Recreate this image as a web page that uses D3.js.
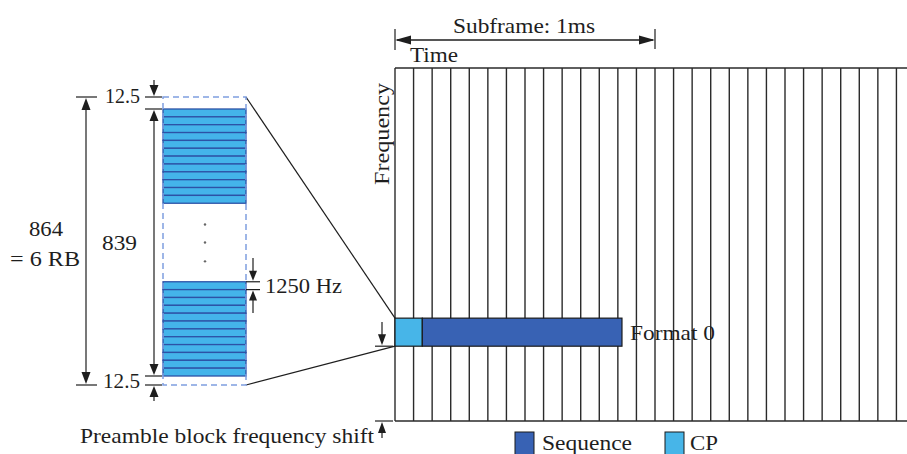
<!DOCTYPE html>
<html><head><meta charset="utf-8">
<script src="https://cdn.jsdelivr.net/npm/d3@7"></script>
<style>html,body{margin:0;padding:0;background:#fff}svg{display:block}
text{font-family:"Liberation Serif","Times New Roman",Times,serif;}</style>
</head><body>
<script>
// ---------- data ----------
const symbolIdx = [0,1,2,3,4,5,6,7,8,9,10,11,12,13,14,15,16,17,18,19,20,21,22,23,24,25,26,27];
const symbolsPerSubframe = 14;
const subframeMs = 1;
const partNames = ["CP", "Sequence"];
const partStartMs = [0, 0.105];
const partEndMs = [0.105, 0.873];
const gridRB = 75.5;
const freqShiftRB = 16;
const preambleRB = 6;
const guardTop = 12.5, seqSubcarriers = 839, guardBottom = 12.5, totalUnits = 864;
const stripeRowsTop = [0,1,2,3,4,5,6,7,8,9,10,11];
const stripeRowsBottom = [22,23,24,25,26,27,28,29,30,31,32,33];
const totalRows = 34;
const dotRows = [14.7, 17, 19.4];
const legendLabels = ["Sequence", "CP"];

// ---------- setup ----------
const W = 907, H = 454;
const svg = d3.select("body").append("svg").attr("width", W).attr("height", H);
svg.append("rect").attr("width", W).attr("height", H).attr("fill", "#fff");
const INK = "#1e1e1e";
const colSeq = "#3862b4", colCP = "#47b5e8";
const stripeFill = "#44b4ea", stripeStroke = "#2d52a6";

// scales
const xSym = d3.scaleLinear().domain([0, symbolsPerSubframe]).range([395, 655]);
const xMs = d3.scaleLinear().domain([0, subframeMs]).range([395, 655]);
const yRB = d3.scaleLinear().domain([0, gridRB]).range([421, 68]);
const yUnit = d3.scaleLinear().domain([0, guardBottom, guardBottom + seqSubcarriers, totalUnits]).range([385, 376, 109, 97]);
const yRow = d3.scaleLinear().domain([0, totalRows]).range([109, 376]);
const boxX0 = 163, boxX1 = 246;

function txt(s, x, y, w, opts = {}) {
  const t = svg.append("text").attr("x", x).attr("y", y).text(s)
    .attr("font-size", opts.size || 21).attr("fill", INK);
  if (w) t.attr("textLength", w).attr("lengthAdjust", "spacingAndGlyphs");
  if (opts.anchor) t.attr("text-anchor", opts.anchor);
  if (opts.transform) t.attr("transform", opts.transform);
  return t;
}
function line(x1, y1, x2, y2, sw = 1.3, col = INK) {
  svg.append("line").attr("x1", x1).attr("y1", y1).attr("x2", x2).attr("y2", y2)
    .attr("stroke", col).attr("stroke-width", sw);
}
function head(x, y, dir, len = 11, w = 4) {
  let p;
  if (dir === "up") p = [[x, y], [x - w, y + len], [x + w, y + len]];
  if (dir === "down") p = [[x, y], [x - w, y - len], [x + w, y - len]];
  if (dir === "left") p = [[x, y], [x + len, y - w], [x + len, y + w]];
  if (dir === "right") p = [[x, y], [x - len, y - w], [x - len, y + w]];
  svg.append("path").attr("d", d3.line()(p) + "Z").attr("fill", INK);
}

// ---------- time/frequency grid ----------
const gridG = svg.append("g");
gridG.selectAll("line.sym").data(symbolIdx).join("line")
  .attr("x1", d => xSym(d)).attr("x2", d => xSym(d))
  .attr("y1", yRB(gridRB)).attr("y2", yRB(0))
  .attr("stroke", "#2a2a2a").attr("stroke-width", 1.4);
line(xSym(0), yRB(gridRB), W, yRB(gridRB), 1.6, "#2a2a2a");
line(xSym(0), yRB(0), W, yRB(0), 1.6, "#2a2a2a");

// preamble format 0 block
svg.selectAll("rect.part").data(partNames).join("rect")
  .attr("x", (d, i) => xMs(partStartMs[i]))
  .attr("width", (d, i) => xMs(partEndMs[i]) - xMs(partStartMs[i]))
  .attr("y", yRB(freqShiftRB + preambleRB))
  .attr("height", yRB(freqShiftRB) - yRB(freqShiftRB + preambleRB))
  .attr("fill", d => d === "CP" ? colCP : colSeq)
  .attr("stroke", "#1a1a1a").attr("stroke-width", 1.2);
txt("Format 0", xMs(partEndMs[1]) + 8, 340, 85, {size: 22});

// subframe dimension
line(xMs(0), 29, xMs(0), 50, 1.2);
line(xMs(subframeMs), 29, xMs(subframeMs), 49, 1.2);
line(xMs(0) + 2, 40, xMs(subframeMs) - 2, 40, 1.5);
head(xMs(0), 40, "left", 16, 4.5);
head(xMs(subframeMs), 40, "right", 16, 4.5);
txt("Subframe: 1ms", 453, 33, 142, {size: 22});
txt("Time", 410, 62, 48, {size: 22});
txt("Frequency", 389, 185, 102, {size: 22, transform: "rotate(-90,389,185)"});

// frequency shift dimension
const xs = 382;
line(375, yRB(freqShiftRB), 393, yRB(freqShiftRB), 1.2);
line(xs, 322, xs, yRB(freqShiftRB) - 4, 1.2);
head(xs, yRB(freqShiftRB) - 1, "down", 11, 4);
line(375, yRB(0), 393, yRB(0), 1.2);
line(xs, yRB(0) + 4, xs, 438, 1.2);
head(xs, yRB(0) + 1, "up", 11, 4);
txt("Preamble block frequency shift", 80, 443, 294, {size: 22});

// zoom lines
line(boxX1, yUnit(totalUnits), xMs(0), yRB(freqShiftRB + preambleRB), 1.2);
line(boxX1, yUnit(0), xMs(0), yRB(freqShiftRB), 1.2);

// ---------- zoomed preamble block ----------
const allRows = stripeRowsTop.concat(stripeRowsBottom);
svg.selectAll("rect.stripe").data(allRows).join("rect")
  .attr("x", boxX0).attr("width", boxX1 - boxX0)
  .attr("y", d => yRow(d)).attr("height", d => yRow(d + 1) - yRow(d))
  .attr("fill", stripeFill).attr("stroke", stripeStroke).attr("stroke-width", 1.3);
svg.append("rect").attr("x", boxX0).attr("y", yUnit(totalUnits))
  .attr("width", boxX1 - boxX0).attr("height", yUnit(0) - yUnit(totalUnits))
  .attr("fill", "none").attr("stroke", "#7f9ee0").attr("stroke-width", 1.5)
  .attr("stroke-dasharray", "6,4");
svg.selectAll("circle.dot").data(dotRows).join("circle")
  .attr("cx", 205).attr("cy", d => yRow(d)).attr("r", 1.2).attr("fill", "#666");

// 864 dimension
const x864 = 86;
line(76, yUnit(totalUnits), 97, yUnit(totalUnits), 1.2);
line(76, yUnit(0), 97, yUnit(0), 1.2);
line(x864, yUnit(totalUnits) + 4, x864, yUnit(0) - 4, 1.2);
head(x864, yUnit(totalUnits) + 1, "up", 12, 4.5);
head(x864, yUnit(0) - 1, "down", 12, 4.5);
txt("864", 46, 236, 34, {anchor: "middle"});
txt("= 6 RB", 10, 266, 70);

// 839 dimension with guards
const x839 = 154;
[yUnit(totalUnits), yUnit(guardBottom + seqSubcarriers), yUnit(guardBottom), yUnit(0)].forEach(y => line(145, y, 162, y, 1.2));
line(x839, yUnit(guardBottom + seqSubcarriers) + 4, x839, yUnit(guardBottom) - 4, 1.2);
head(x839, yUnit(guardBottom + seqSubcarriers) + 1, "up", 11, 4.5);
head(x839, yUnit(guardBottom) - 1, "down", 11, 4.5);
line(x839, 80, x839, yUnit(totalUnits) - 4, 1.2);
head(x839, yUnit(totalUnits) - 1, "down", 11, 4.5);
line(x839, yUnit(0) + 4, x839, 401, 1.2);
head(x839, yUnit(0) + 1, "up", 11, 4.5);
txt("12.5", 105, 103, 35, {size: 20});
txt("12.5", 103, 388, 37, {size: 20});
txt("839", 102, 250, 35);

// 1250 Hz dimension
const x1250 = 253;
const rowA = stripeRowsBottom[0];
line(246, yRow(rowA), 260, yRow(rowA), 1.2);
line(246, yRow(rowA + 1), 260, yRow(rowA + 1), 1.2);
line(x1250, 258, x1250, yRow(rowA) - 4, 1.2);
head(x1250, yRow(rowA) - 1, "down", 10, 4);
line(x1250, yRow(rowA + 1) + 4, x1250, 313, 1.2);
head(x1250, yRow(rowA + 1) + 1, "up", 10, 4);
txt("1250 Hz", 265, 293, 77);

// ---------- legend ----------
const legX = [515, 665], legTextX = [542, 690], legW = [90, 28];
legendLabels.forEach((lab, i) => {
  svg.append("rect").attr("x", legX[i]).attr("y", 432).attr("width", 19).attr("height", 24)
    .attr("fill", lab === "CP" ? colCP : colSeq).attr("stroke", "#1a1a1a").attr("stroke-width", 1);
  txt(lab, legTextX[i], 450, legW[i], {size: 22});
});
</script>
</body></html>
